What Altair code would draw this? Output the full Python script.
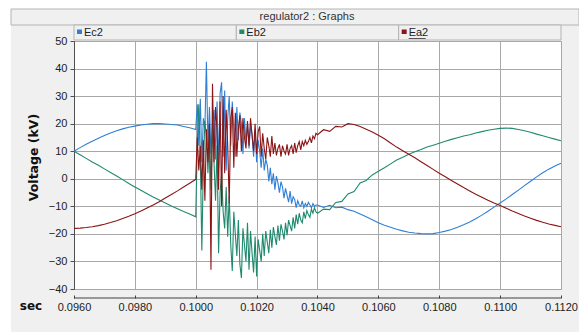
import altair as alt
import numpy as np
import pandas as pd

# ---------------- data ----------------
chart_title = "regulator2 : Graphs"
series_names = ["Ec2", "Eb2", "Ea2"]
series_colors = ["#2f7fd6", "#1f8a6e", "#8b1515"]
y_label = "Voltage (kV)"
x_label = "sec"
x_tick_values = [0.0960, 0.0980, 0.1000, 0.1020, 0.1040, 0.1060, 0.1080, 0.1100, 0.1120]
y_tick_values = [-40, -30, -20, -10, 0, 10, 20, 30, 40, 50]

# sampling instants (s): before the disturbance, during it, after it
t_pre = np.round(0.0960 + 0.0002 * np.arange(20), 6)
t_mid = np.round(0.1000 + 0.00005 * np.arange(80), 6)
t_post = np.round(0.1040 + 0.0002 * np.arange(41), 6)

ec2_pre = [10.0, 11.3, 12.5, 13.6, 14.7, 15.7, 16.6, 17.4, 18.1, 18.7,
           19.1, 19.5, 19.8, 20.0, 20.0, 19.9, 19.7, 19.5, 19.0, 18.5]
ec2_mid = [17.9, 27.0, 12.0, 29.0, 6.0, 22.0, 18.0, 42.5, 12.0, 26.0,
           9.0, 20.0, 25.0, 7.0, 28.0, 4.0, 31.0, 35.0, 8.0, 32.0,
           3.0, 22.0, 30.0, 12.0, 28.0, 18.0, 8.0, 26.0, 14.0, 24.0,
           20.0, 9.0, 22.0, 13.0, 20.0, 11.0, 19.0, 16.0, 8.0, 18.0,
           6.0, 14.0, 10.0, 4.0, 11.0, 3.0, 7.0, 5.0, -1.0, 4.0,
           -2.0, 2.0, -4.0, 1.0, -1.5, -5.0, -1.0, -3.0, -7.0, -3.5,
           -6.0, -8.5, -4.5, -9.0, -6.5, -7.5, -10.5, -8.0, -9.5, -10.0,
           -8.0, -10.5, -9.0, -10.0, -8.5, -9.5, -10.5, -9.0, -10.0, -9.5]
ec2_post = [-9.5, -10.4, -9.6, -10.5, -10.3, -11.2, -11.8, -12.8, -13.8, -14.9,
            -16.0, -16.9, -17.6, -18.3, -18.9, -19.4, -19.7, -19.9, -20.0, -19.9,
            -19.5, -19.0, -18.4, -17.6, -16.7, -15.7, -14.5, -13.2, -11.8, -10.3,
            -8.8, -7.3, -5.7, -4.1, -2.5, -0.9, 0.7, 2.2, 3.5, 4.6,
            5.6]

eb2_pre = [10.0, 8.7, 7.4, 6.1, 4.9, 3.6, 2.3, 1.0, -0.3, -1.7,
           -3.0, -4.2, -5.4, -6.6, -7.7, -8.8, -9.9, -10.9, -11.9, -12.8]
eb2_mid = [-13.8, 13.0, 27.0, 8.0, -26.0, 5.0, 21.0, 15.0, 2.0, 17.0,
           -4.0, 19.0, 6.0, -8.0, 12.0, -27.0, -5.0, 2.0, -12.0, -18.0,
           -3.0, -21.0, -6.0, -24.0, -33.5, -12.0, -20.0, -28.0, -15.0, -31.0,
           -36.0, -18.0, -24.0, -30.0, -16.0, -33.0, -19.0, -27.0, -34.0, -21.0,
           -35.5, -22.0, -26.0, -30.0, -20.0, -28.0, -19.0, -23.0, -27.0, -18.5,
           -25.0, -17.5, -21.0, -24.0, -17.0, -22.5, -16.5, -19.0, -22.0, -16.0,
           -20.5, -15.0, -17.0, -19.0, -14.0, -18.0, -13.0, -16.5, -12.5, -15.0,
           -16.0, -12.0, -14.5, -11.5, -13.0, -14.0, -11.0, -12.5, -10.5, -12.0]
eb2_post = [-12.5, -11.0, -11.2, -8.6, -8.2, -5.5, -4.6, -1.5, -0.6, 1.4,
            2.7, 4.0, 5.4, 6.8, 7.8, 8.9, 9.8, 10.6, 11.5, 12.2,
            12.9, 13.6, 14.3, 14.9, 15.5, 16.0, 16.6, 17.1, 17.6, 18.0,
            18.3, 18.4, 18.3, 17.9, 17.4, 16.9, 16.2, 15.6, 15.0, 14.4,
            13.8]

ea2_pre = [-18.0, -17.9, -17.7, -17.4, -17.0, -16.5, -15.9, -15.2, -14.4, -13.6,
           -12.7, -11.7, -10.6, -9.5, -8.3, -7.0, -5.7, -4.4, -3.0, -1.6]
ea2_mid = [-0.2, 15.0, 3.0, 12.0, -4.0, 14.0, -8.0, 18.0, 6.0, 20.0,
           -33.0, 34.5, 6.0, 26.0, 18.0, -4.0, 28.0, -10.0, 30.0, 2.0,
           25.0, 12.0, -9.0, 22.0, 26.0, 4.0, 24.0, 8.0, 18.0, 23.0,
           10.0, 22.0, 15.0, 11.0, 21.0, 12.0, 22.0, 16.0, 10.0, 20.0,
           9.0, 17.0, 19.0, 8.0, 16.5, 11.0, 7.0, 15.0, 12.0, 8.0,
           15.5, 9.0, 13.0, 8.5, 11.0, 12.5, 8.0, 12.0, 10.0, 9.0,
           12.5, 8.5, 11.0, 12.0, 9.0, 13.0, 9.5, 12.0, 13.5, 10.5,
           13.5, 12.0, 14.0, 12.5, 13.5, 15.0, 13.0, 15.5, 14.5, 16.5]
ea2_post = [16.0, 17.8, 17.2, 19.0, 18.8, 20.0, 19.7, 19.0, 18.0, 17.0,
            15.8, 14.5, 13.0, 11.5, 10.2, 8.9, 7.6, 6.2, 4.8, 3.4,
            2.0, 0.7, -0.6, -1.9, -3.2, -4.4, -5.6, -6.7, -7.8, -8.8,
            -9.7, -10.7, -11.7, -12.6, -13.5, -14.3, -15.1, -15.8, -16.4, -16.9,
            -17.4]

# ---------------- table ----------------
t_all = np.concatenate([t_pre, t_mid, t_post])
series_values = {
    "Ec2": ec2_pre + ec2_mid + ec2_post,
    "Eb2": eb2_pre + eb2_mid + eb2_post,
    "Ea2": ea2_pre + ea2_mid + ea2_post,
}
frames = [pd.DataFrame({"t": t_all, "v": series_values[n], "s": n}) for n in series_names]
df = pd.concat(frames, ignore_index=True)

# ---------------- layout ----------------
W, H = 487, 248
LAB_FONT = "Liberation Sans"
BOLD_FONT = "DejaVu Sans"
one = pd.DataFrame({"k": [0]})


def box(x1, x2, y1, y2, fill, stroke=None):
    kw = {"fill": fill}
    if stroke is not None:
        kw.update(stroke=stroke, strokeWidth=1)
    return alt.Chart(one).mark_rect(**kw).encode(
        x=alt.value(x1), x2=alt.value(x2), y=alt.value(y1), y2=alt.value(y2))


def label(x, y, s, **kw):
    return alt.Chart(one).mark_text(**kw).encode(
        x=alt.value(x), y=alt.value(y), text=alt.value(s))


x_enc = alt.X(
    "t:Q",
    scale=alt.Scale(domain=[0.096, 0.112], nice=False, zero=False),
    axis=alt.Axis(values=x_tick_values, format=".4f", title=None, offset=6,
                  domain=False, tickSize=3, tickColor="#404040", labelPadding=3,
                  grid=True, gridColor="#a8a8a8", gridWidth=1,
                  labelFont=LAB_FONT, labelFontSize=11, labelColor="#222222",
                  labelFlush=False, labelOverlap=False),
)
y_enc = alt.Y(
    "v:Q",
    scale=alt.Scale(domain=[-40, 50], nice=False, zero=False),
    axis=alt.Axis(values=y_tick_values, format="d", title=y_label,
                  domainColor="#505050", tickColor="#505050", tickSize=4,
                  labelPadding=3, grid=True, gridColor="#a8a8a8", gridWidth=1,
                  labelFont=LAB_FONT, labelFontSize=11, labelColor="#222222",
                  labelFlush=False, labelOverlap=False,
                  titleFont=BOLD_FONT, titleFontWeight="bold", titleFontSize=12.5,
                  titleColor="#111111", titleX=-41, titleY=116, titleAngle=270,
                  titleAlign="center", titleBaseline="middle"),
)

lines = [
    alt.Chart(df).transform_filter(alt.datum.s == n)
    .mark_line(color=c, strokeWidth=1.1)
    .encode(x=x_enc, y=y_enc)
    for n, c in zip(series_names, series_colors)
]

decor = [
    # white margin strips at left and top
    box(-74, -63, -41, 291, "white"),
    box(-74, 505, -41, -32, "white"),
    # title bar
    box(-63, 505, -32, -16, "#f0f0f0", "#b4b4b4"),
    label(233, -24, chart_title, font=LAB_FONT, fontSize=11, color="#333333",
          align="center", baseline="middle"),
]
cell_w = W / 3.0
for i, (n, c) in enumerate(zip(series_names, series_colors)):
    x0 = i * cell_w
    decor.append(box(x0, x0 + cell_w, -16, -1, "#f0f0f0", "#b4b4b4"))
    decor.append(box(x0 + 3, x0 + 8, -11.5, -7, c))
    decor.append(label(x0 + 10, -8.5, n, font=LAB_FONT, fontSize=11, color="#222222",
                       align="left", baseline="middle"))
# underline of the selected trace name
decor.append(alt.Chart(one).mark_rule(color="#555555", strokeWidth=1).encode(
    x=alt.value(2 * cell_w + 10), x2=alt.value(2 * cell_w + 27), y=alt.value(-2.5)))

front = [
    # x-axis base line (ticks point up from it)
    alt.Chart(one).mark_rule(color="#404040", strokeWidth=1).encode(
        x=alt.value(0), x2=alt.value(W), y=alt.value(H + 9)),
    label(-43, H + 17, x_label, font=BOLD_FONT, fontWeight="bold", fontSize=12,
          color="#111111", align="center", baseline="middle"),
]

chart = (
    alt.layer(*decor, *lines, *front)
    .properties(
        width=W, height=H, background="#f0f0f0",
        padding={"left": 74, "top": 41, "right": 18, "bottom": 43},
        autosize=alt.AutoSizeParams(type="none"),
    )
    .configure_view(fill="white", stroke="#a8a8a8", strokeWidth=1)
)

chart.save("out.html", embed_options={"renderer": "svg", "actions": False})
